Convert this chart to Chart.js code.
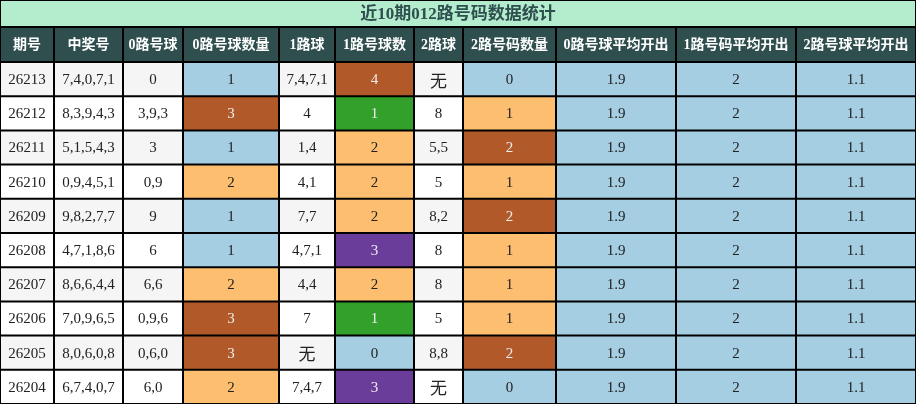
<!DOCTYPE html>
<html><head><meta charset="utf-8">
<script src="https://cdn.jsdelivr.net/npm/chart.js@4"></script>
<style>html,body{margin:0;padding:0;background:#fff}#wrap{width:916px;height:404px}</style>
</head><body><div id="wrap"><canvas id="tbl"></canvas></div>
<script>
const titulo = '近10期012路号码数据统计';
const encabezados = ['期号','中奖号','0路号球','0路号球数量','1路球','1路号球数','2路球','2路号码数量','0路号球平均开出','1路号码平均开出','2路号球平均开出'];
const periodos = ['26213','26212','26211','26210','26209','26208','26207','26206','26205','26204'];
const numeros = ['7,4,0,7,1','8,3,9,4,3','5,1,5,4,3','0,9,4,5,1','9,8,2,7,7','4,7,1,8,6','8,6,6,4,4','7,0,9,6,5','8,0,6,0,8','6,7,4,0,7'];
const ruta0 = ['0','3,9,3','3','0,9','9','6','6,6','0,9,6','0,6,0','6,0'];
const cuenta0 = [1,3,1,2,1,1,2,3,3,2];
const ruta1 = ['7,4,7,1','4','1,4','4,1','7,7','4,7,1','4,4','7','无','7,4,7'];
const cuenta1 = [4,1,2,2,2,3,2,1,0,3];
const ruta2 = ['无','8','5,5','5','8,2','8','8','5','8,8','无'];
const cuenta2 = [0,1,2,1,2,1,1,1,2,0];
const prom0 = [1.9,1.9,1.9,1.9,1.9,1.9,1.9,1.9,1.9,1.9];
const prom1 = [2,2,2,2,2,2,2,2,2,2];
const prom2 = [1.1,1.1,1.1,1.1,1.1,1.1,1.1,1.1,1.1,1.1];

// bordes de columnas y filas (layout)
const colX = [0,54,123,183,279,335,414,463,556,676,796,916];
const filaY = [0,27,62];
for (let i = 1; i <= 10; i++) filaY.push(62 + i * 34.2);

const AZUL='#a6cee3', MARRON='#b15928', NARANJA='#fdbf6f', VERDE='#33a02c', MORADO='#6a3d9a';
const mapa0 = {0:AZUL,1:AZUL,2:NARANJA,3:MARRON};
const mapa1 = {0:AZUL,1:VERDE,2:NARANJA,3:MORADO,4:MARRON};
const mapa2 = {0:AZUL,1:NARANJA,2:MARRON};
const oscuros = [MARRON,VERDE,MORADO];

function celda(c, r) {
    const fondoTxt = r % 2 == 0 ? '#f5f5f5' : '#ffffff';
    switch (c) {
        case 0: return [periodos[r], fondoTxt];
        case 1: return [numeros[r], fondoTxt];
        case 2: return [ruta0[r], fondoTxt];
        case 3: return [String(cuenta0[r]), mapa0[cuenta0[r]]];
        case 4: return [ruta1[r], fondoTxt];
        case 5: return [String(cuenta1[r]), mapa1[cuenta1[r]]];
        case 6: return [ruta2[r], fondoTxt];
        case 7: return [String(cuenta2[r]), mapa2[cuenta2[r]]];
        case 8: return [String(prom0[r]), AZUL];
        case 9: return [String(prom1[r]), AZUL];
        case 10: return [String(prom2[r]), AZUL];
    }
}

const tablaPlugin = {
    id: 'tabla',
    afterDraw(chart) {
        const ctx = chart.ctx, sx = chart.scales.x, sy = chart.scales.y;
        const px = v => sx.getPixelForValue(v), py = v => sy.getPixelForValue(v);
        ctx.save();
        ctx.textAlign = 'center';
        ctx.textBaseline = 'middle';
        // titulo
        ctx.fillStyle = '#b4ecce';
        ctx.fillRect(px(0), py(filaY[0]), px(916) - px(0), py(filaY[1]) - py(filaY[0]));
        ctx.fillStyle = '#2f4f4f';
        ctx.font = 'bold 17px "Liberation Serif", "Noto Sans CJK SC", serif';
        ctx.fillText(titulo, px(458), (py(filaY[0]) + py(filaY[1])) / 2 + 1);
        // encabezados
        for (let c = 0; c < encabezados.length; c++) {
            const x0 = px(colX[c]), x1 = px(colX[c + 1]), y0 = py(filaY[1]), y1 = py(filaY[2]);
            ctx.fillStyle = '#2f4f4f';
            ctx.fillRect(x0, y0, x1 - x0, y1 - y0);
            ctx.fillStyle = '#ffffff';
            ctx.font = 'bold 14px "Liberation Serif", "Noto Sans CJK SC", serif';
            ctx.fillText(encabezados[c], (x0 + x1) / 2, (y0 + y1) / 2 + 1);
        }
        // filas
        for (let r = 0; r < periodos.length; r++) {
            const y0 = py(filaY[r + 2]), y1 = py(filaY[r + 3]);
            for (let c = 0; c < encabezados.length; c++) {
                const x0 = px(colX[c]), x1 = px(colX[c + 1]);
                const [txt, fondo] = celda(c, r);
                ctx.fillStyle = fondo;
                ctx.fillRect(x0, y0, x1 - x0, y1 - y0);
                ctx.fillStyle = oscuros.includes(fondo) ? '#eeeeee' : '#222222';
                ctx.font = txt == '无' ? '17px "Noto Sans CJK SC", serif' : '15px "Liberation Serif", serif';
                ctx.fillText(txt, (x0 + x1) / 2, (y0 + y1) / 2 + 1);
            }
        }
        // lineas
        ctx.strokeStyle = '#000000';
        ctx.lineWidth = 2;
        ctx.beginPath();
        for (const y of filaY.concat([404])) { ctx.moveTo(px(0), py(y)); ctx.lineTo(px(916), py(y)); }
        for (const x of colX) { ctx.moveTo(px(x), py(filaY[1])); ctx.lineTo(px(x), py(404)); }
        ctx.moveTo(px(0), py(0)); ctx.lineTo(px(0), py(filaY[1]));
        ctx.moveTo(px(916), py(0)); ctx.lineTo(px(916), py(filaY[1]));
        ctx.stroke();
        ctx.restore();
    }
};

new Chart(document.getElementById('tbl'), {
    type: 'scatter',
    data: { datasets: [{ data: [] }] },
    options: {
        responsive: true,
        maintainAspectRatio: false,
        animation: { duration: 0 },
        layout: { padding: 0 },
        plugins: { legend: { display: false }, tooltip: { enabled: false } },
        scales: {
            x: { type: 'linear', min: 0, max: 916, display: false },
            y: { type: 'linear', min: 0, max: 404, reverse: true, display: false }
        }
    },
    plugins: [tablaPlugin]
});
</script>
</body></html>
